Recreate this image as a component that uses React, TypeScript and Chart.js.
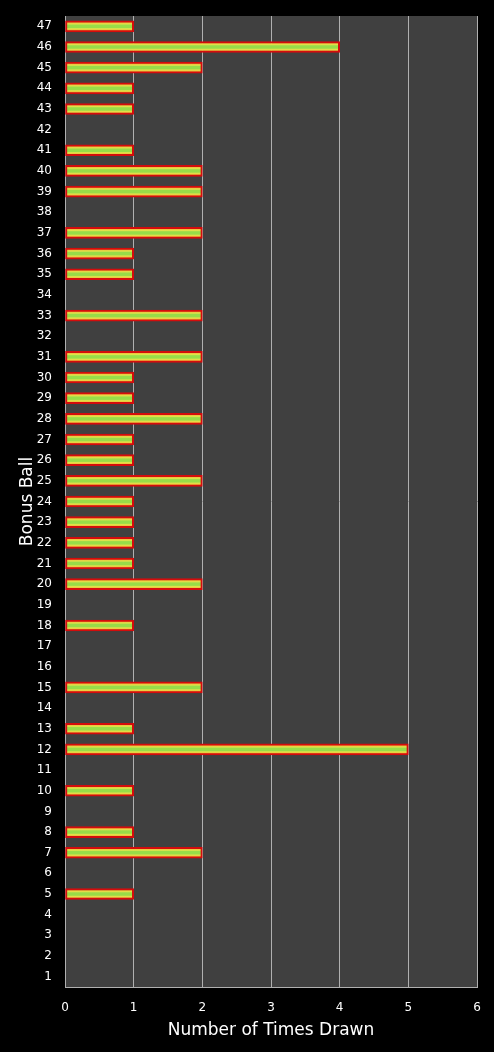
import { useEffect, useRef } from "react"
import { Chart, registerables } from "chart.js"

Chart.register(...registerables)

const balls = [
  "1", "2", "3", "4", "5", "6", "7", "8", "9", "10", "11", "12", "13", "14", "15", "16",
  "17", "18", "19", "20", "21", "22", "23", "24", "25", "26", "27", "28", "29", "30", "31",
  "32", "33", "34", "35", "36", "37", "38", "39", "40", "41", "42", "43", "44", "45", "46", "47",
]
const timesDrawn = [
  0, 0, 0, 0, 1, 0, 2, 1, 0, 1, 0, 5, 1, 0, 2, 0,
  0, 1, 0, 2, 1, 1, 1, 1, 2, 1, 1, 2, 1, 1, 2,
  0, 2, 0, 1, 1, 2, 0, 2, 2, 1, 0, 1, 1, 2, 4, 1,
]
const xTicks = [0, 1, 2, 3, 4, 5, 6]

const FONT = "'DejaVu Sans', Verdana, sans-serif"

const plotBackground = {
  id: "plotBackground",
  beforeDraw(chart: any) {
    const { ctx, chartArea, width, height } = chart
    ctx.save()
    ctx.fillStyle = "#000"
    ctx.fillRect(0, 0, width, height)
    ctx.fillStyle = "#404040"
    ctx.fillRect(chartArea.left, chartArea.top, chartArea.right - chartArea.left, chartArea.bottom - chartArea.top)
    ctx.restore()
  },
}

export default function App() {
  const canvasRef = useRef<HTMLCanvasElement>(null)
  const chartRef = useRef<Chart | null>(null)

  useEffect(() => {
    document.body.style.margin = "0"
    document.body.style.background = "#000"
    if (!canvasRef.current) return
    if (chartRef.current) chartRef.current.destroy()
    const ctx = canvasRef.current.getContext("2d")
    if (!ctx) return

    chartRef.current = new Chart(ctx, {
      type: "bar",
      data: {
        labels: balls,
        datasets: [
          {
            label: "Times Drawn",
            data: timesDrawn,
            backgroundColor: (c: any) => {
              const chart = c.chart
              const y = chart.scales?.y
              const cy = y ? y.getPixelForValue(c.dataIndex) : NaN
              if (!Number.isFinite(cy)) return "#a4dc4e"
              const g = chart.ctx.createLinearGradient(0, cy - 4, 0, cy + 4)
              g.addColorStop(0, "#f0b838")
              g.addColorStop(0.2, "#e2e04a")
              g.addColorStop(0.35, "#98dc48")
              g.addColorStop(0.65, "#98dc48")
              g.addColorStop(0.8, "#e2e04a")
              g.addColorStop(1, "#f0b838")
              return g
            },
            borderColor: "#d40c0c",
            borderWidth: 2,
            borderSkipped: false,
            barThickness: 11,
          },
        ],
      },
      options: {
        indexAxis: "y",
        animation: false,
        responsive: false,
        maintainAspectRatio: false,
        layout: { padding: { top: 16, right: 17, left: 17, bottom: 0 } },
        plugins: {
          legend: { display: false },
          tooltip: { enabled: false },
        },
        scales: {
          x: {
            min: 0,
            max: 6,
            afterBuildTicks: (s: any) => {
              s.ticks = xTicks.map((v) => ({ value: v }))
            },
            afterFit: (s: any) => {
              s.height = 65
              s.paddingLeft = 0
              s.paddingRight = 0
            },
            grid: { color: "#b0b0b0", lineWidth: 1, drawTicks: false },
            border: { color: "#b0b0b0" },
            ticks: { color: "#fff", font: { family: FONT, size: 12 }, padding: 14 },
            title: {
              display: true,
              text: "Number of Times Drawn",
              color: "#fff",
              font: { family: FONT, size: 17 },
              padding: { top: 0, bottom: 11 },
            },
          },
          y: {
            reverse: true,
            afterFit: (s: any) => {
              s.width = 48
              s.paddingTop = 0
              s.paddingBottom = 0
            },
            grid: { display: false, drawTicks: false },
            border: { color: "#b0b0b0" },
            ticks: { color: "#fff", font: { family: FONT, size: 12 }, padding: 13, autoSkip: false },
            title: {
              display: true,
              text: "Bonus Ball",
              color: "#fff",
              font: { family: FONT, size: 17 },
              padding: { top: 0, bottom: 0 },
            },
          },
        },
      },
      plugins: [plotBackground],
    })

    return () => {
      if (chartRef.current) chartRef.current.destroy()
    }
  }, [])

  return <canvas ref={canvasRef} width={494} height={1052} style={{ display: "block" }} />
}
